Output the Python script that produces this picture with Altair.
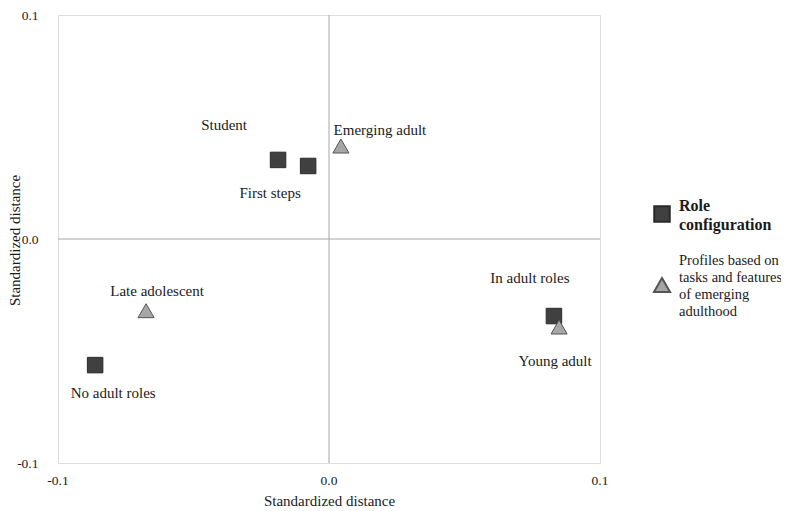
import altair as alt
import pandas as pd

# Data
names = ["Student", "First steps", "No adult roles", "In adult roles",
         "Emerging adult", "Late adolescent", "Young adult"]
groups = ["Role configuration"] * 4 + ["Profiles based on tasks and features of emerging adulthood"] * 3
x_vals = [-0.0188, -0.0077, -0.0863, 0.0830, 0.0044, -0.0675, 0.0849]
y_vals = [0.0353, 0.0326, -0.0563, -0.0344, 0.0415, -0.0320, -0.0393]
label_dx = [-54, -38, 18, -24, 39, 11, -4]
label_dy = [-35, 27, 28, -38, -16, -20, 34]

tick_values = [-0.1, 0.0, 0.1]
tick_labels = ["-0.1", "0.0", "0.1"]

df = pd.DataFrame({"name": names, "group": groups, "x": x_vals, "y": y_vals})
ticks_df = pd.DataFrame({"tx": tick_values, "lab": tick_labels})

FONT = "Liberation Serif"
TXT = "#1a1a1a"
xs = alt.Scale(domain=[-0.1, 0.1], nice=False, zero=False)
ys = alt.Scale(domain=[-0.1, 0.1], nice=False, zero=False)

LEXPR = "datum.value < -0.00001 ? '-' + format(-datum.value, '.1f') : format(abs(datum.value), '.1f')"

xaxis = alt.Axis(values=tick_values, labels=False, title="Standardized distance",
                 grid=False, ticks=False, domain=False,
                 titlePadding=30, titleFont=FONT,
                 titleFontSize=15, titleFontWeight="normal", titleColor=TXT)
yaxis = alt.Axis(values=tick_values, labelExpr=LEXPR, title="Standardized distance",
                 grid=False, ticks=False, domain=False, labelPadding=20,
                 labelOverlap=False, labelFlush=False,
                 titleX=-44, titleY=225, titleAngle=270, titleBaseline="middle",
                 titleAlign="center", labelFont=FONT, titleFont=FONT,
                 labelFontSize=13.5, titleFontSize=15, titleFontWeight="normal",
                 labelColor=TXT, titleColor=TXT)

X = alt.X("x:Q", scale=xs, axis=xaxis)
Y = alt.Y("y:Q", scale=ys, axis=yaxis)

zero_df = pd.DataFrame({"x": [0.0], "y": [0.0]})
vrule = alt.Chart(zero_df).mark_rule(color="#a6a6a6", strokeWidth=1).encode(
    x=X, y=alt.value(0), y2=alt.value(448))
hrule = alt.Chart(zero_df).mark_rule(color="#a6a6a6", strokeWidth=1).encode(
    y=Y, x=alt.value(0), x2=alt.value(542))

# x-axis tick labels (drawn as text at the scale positions)
xlabels = alt.Chart(ticks_df).transform_filter(
    "abs(datum.tx) > 0.00001"
).mark_text(
    font=FONT, fontSize=13.5, color=TXT, baseline="middle", align="center"
).encode(x=alt.X("tx:Q", scale=xs, axis=xaxis), y=alt.value(466), text="lab:N")
xlabel_mid = alt.Chart(pd.DataFrame({"a": [1]})).mark_text(
    font=FONT, fontSize=13.5, color=TXT, baseline="middle", align="center"
).encode(x=alt.datum(tick_values[1], scale=xs), y=alt.value(466),
         text=alt.value(tick_labels[1]))

base = alt.Chart(df)
squares = base.transform_filter(alt.datum.group == "Role configuration").mark_point(
    shape="square", filled=True, size=240, color="#404040", stroke="#2a2a2a",
    strokeWidth=1, opacity=1).encode(x=X, y=Y)

tris = base.transform_filter(alt.datum.group != "Role configuration").mark_point(
    shape="triangle-up", filled=True, size=260, color="#a6a6a6", stroke="#555555",
    strokeWidth=1, opacity=1).encode(x=X, y=Y)

labels = []
for i, n in enumerate(names):
    labels.append(
        alt.Chart(df[df["name"] == n]).mark_text(
            font=FONT, fontSize=15, color=TXT, dx=label_dx[i], dy=label_dy[i]
        ).encode(x=X, y=Y, text="name:N")
    )

# Manual legend (outside the plot area)
leg_sq = alt.Chart(pd.DataFrame({"a": [1]})).mark_point(
    shape="square", filled=True, size=240, color="#404040", stroke="#2a2a2a",
    opacity=1).encode(x=alt.value(604), y=alt.value(199))
leg_tri = alt.Chart(pd.DataFrame({"a": [1]})).mark_point(
    shape="triangle-up", filled=True, size=260, color="#a6a6a6", stroke="#555555",
    opacity=1).encode(x=alt.value(604), y=alt.value(270))
leg_t1 = alt.Chart(pd.DataFrame({"t": [["Role", "configuration"]]})).mark_text(
    font=FONT, fontSize=16, fontWeight="bold", color=TXT, align="left",
    baseline="middle", lineHeight=19).encode(
    x=alt.value(621), y=alt.value(191), text="t")
leg_t2 = alt.Chart(pd.DataFrame({"t": [["Profiles based on", "tasks and features",
                                        "of emerging", "adulthood"]]})).mark_text(
    font=FONT, fontSize=14.5, color=TXT, align="left", baseline="middle",
    lineHeight=17).encode(x=alt.value(621), y=alt.value(246), text="t")

chart = alt.layer(squares, vrule, hrule, tris, *labels, leg_sq, leg_tri, leg_t1, leg_t2,
                  xlabels, xlabel_mid).properties(
    width=542, height=448,
    autosize=alt.AutoSizeParams(type="none"),
    padding={"left": 50, "top": 7, "right": 181, "bottom": 48},
).configure_view(stroke="#d4d4d4", strokeWidth=1).configure(background="white")

chart.save("out.html", embed_options={"renderer": "svg", "actions": False})
